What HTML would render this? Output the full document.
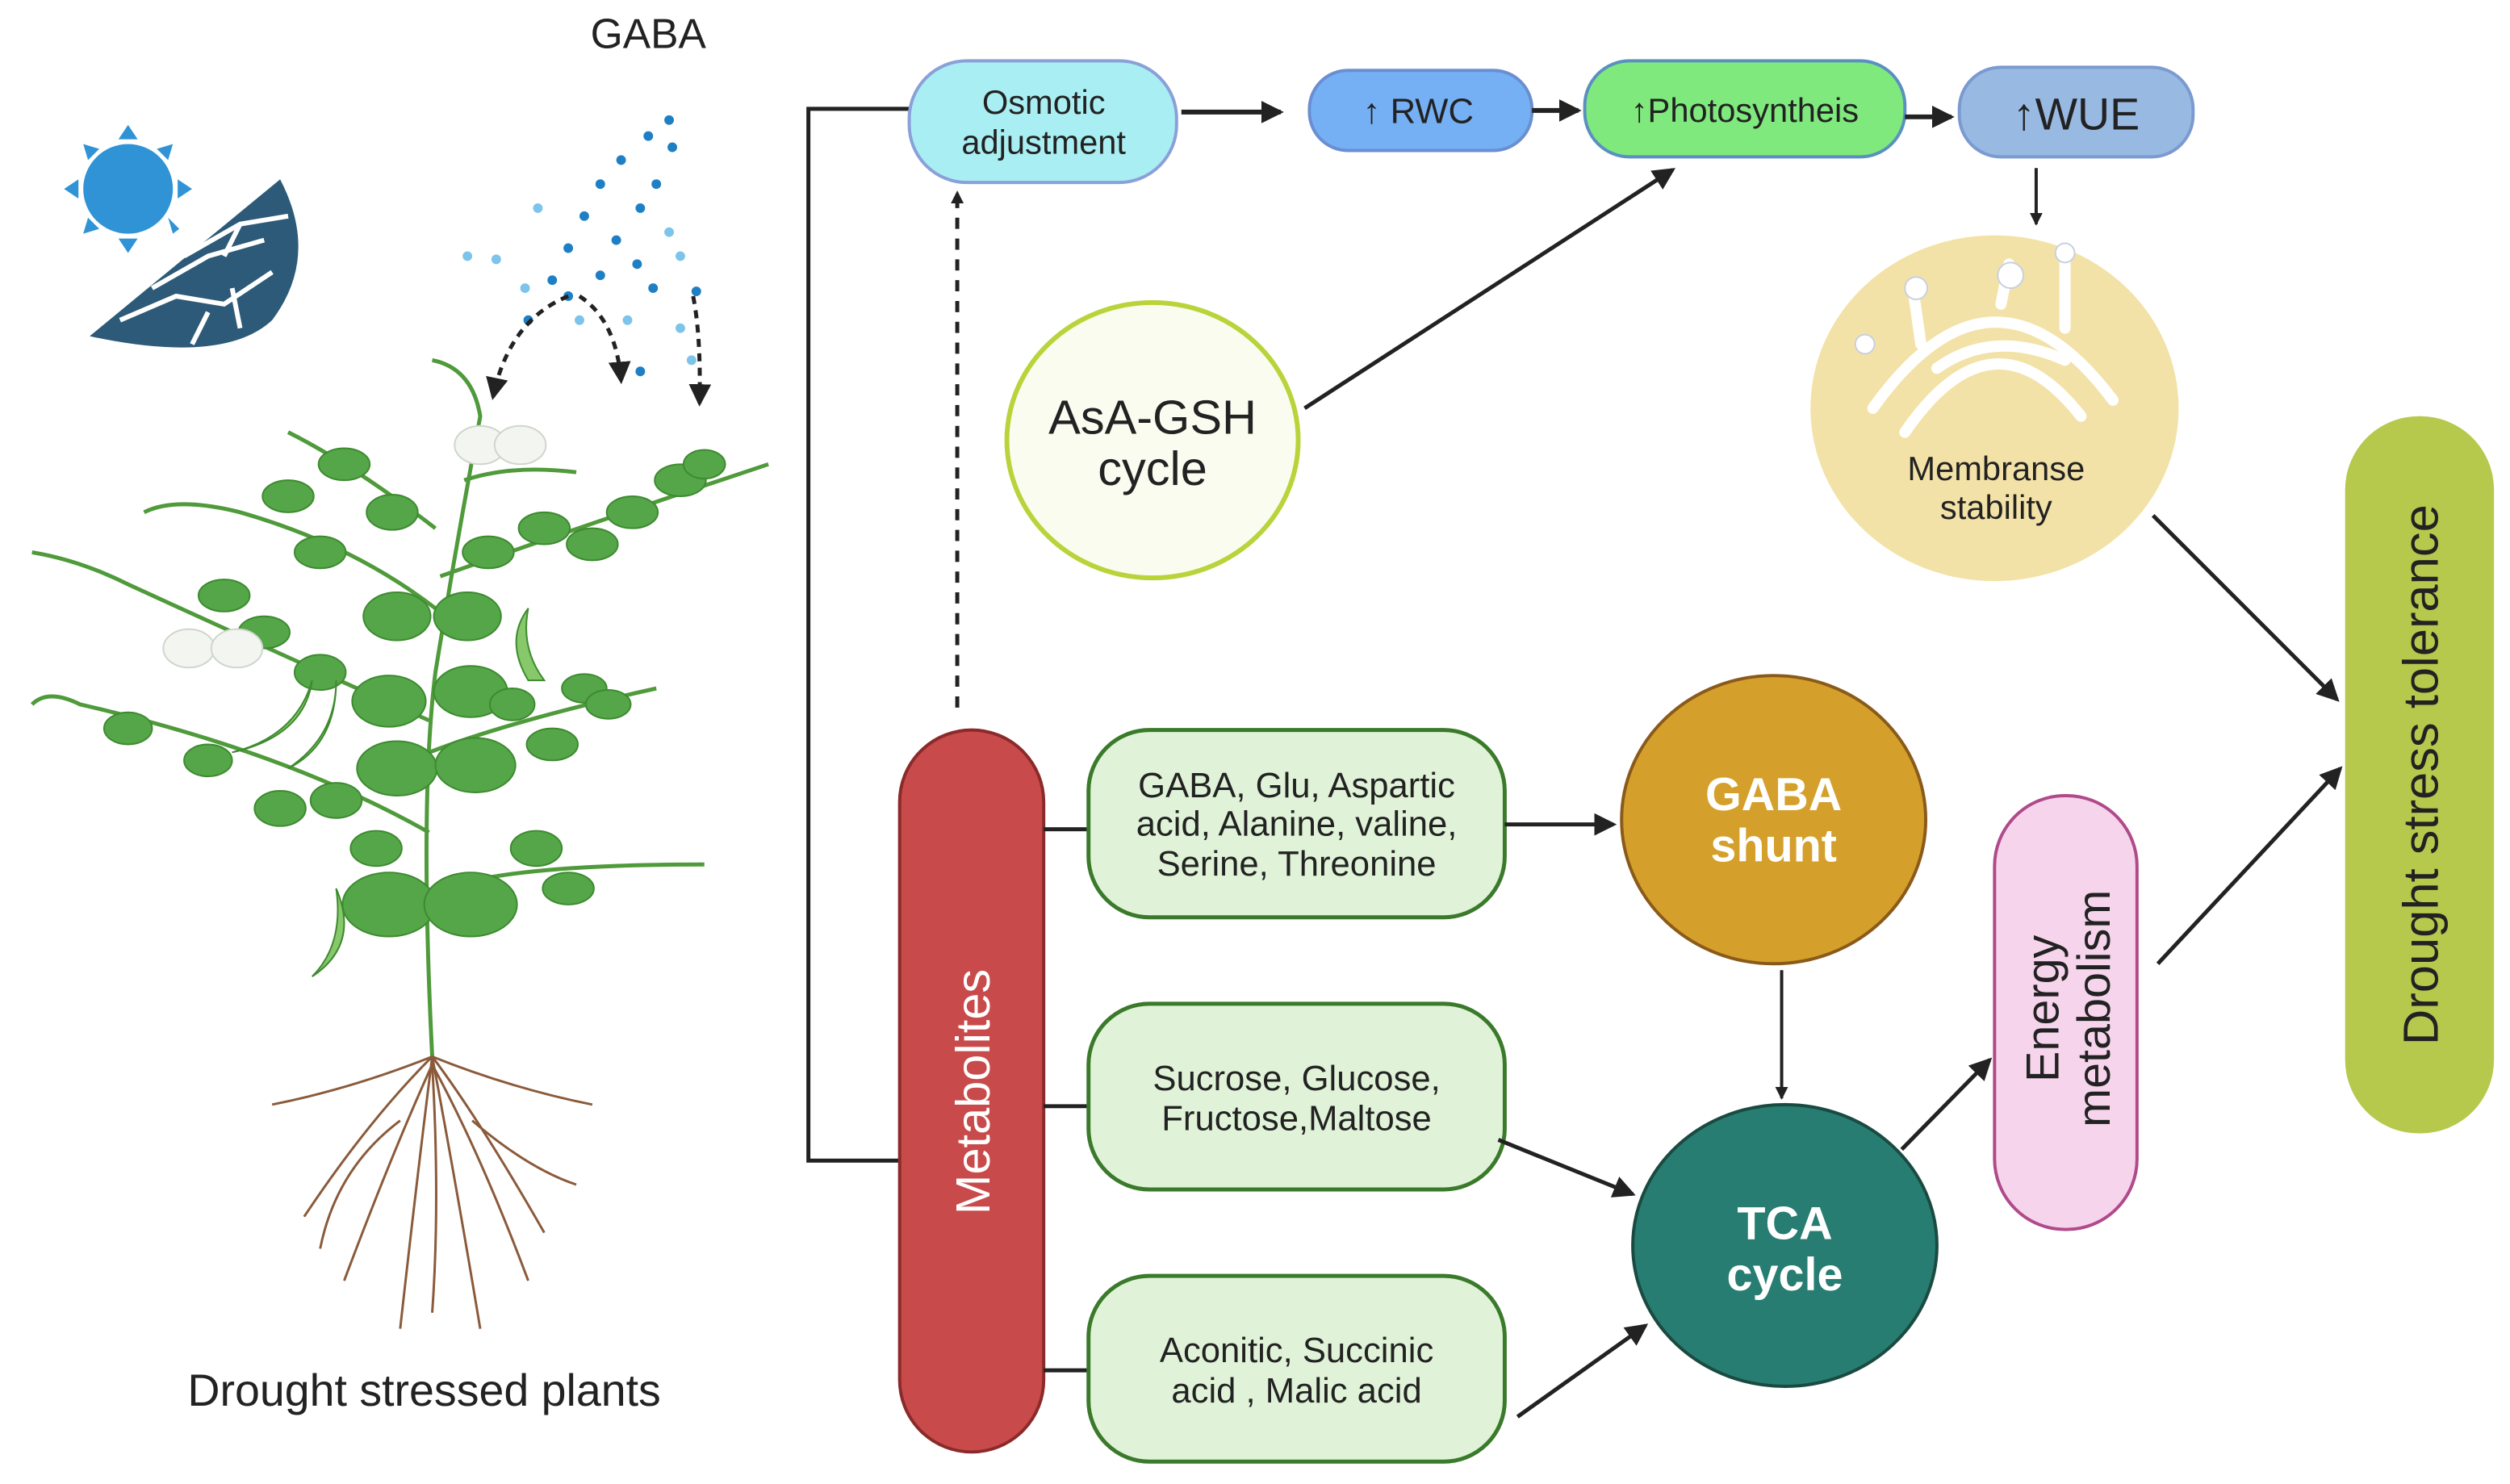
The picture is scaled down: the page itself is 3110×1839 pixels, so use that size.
<!DOCTYPE html>
<html><head><meta charset="utf-8"><style>
html,body{margin:0;padding:0;background:#fff;width:3110px;height:1839px;overflow:hidden}
svg{display:block}
text{font-family:"Liberation Sans",sans-serif}
</style></head><body>
<svg width="3110" height="1839" viewBox="0 0 1568 927" preserveAspectRatio="none" xmlns="http://www.w3.org/2000/svg">
<defs>
<marker id="a" markerWidth="8" markerHeight="8" refX="7" refY="4" orient="auto" markerUnits="userSpaceOnUse"><path d="M0,0 L8,4 L0,8 z" fill="#222"/></marker>
<marker id="b" markerWidth="14" markerHeight="14" refX="12" refY="7" orient="auto" markerUnits="userSpaceOnUse"><path d="M0,0 L14,7 L0,14 z" fill="#222"/></marker>
</defs>
<!-- Sun -->
<g fill="#2f93d6">
<circle cx="80" cy="118" r="28"/>
<path d="M80,78 l-6,9 h12z M80,158 l-6,-9 h12z M40,118 l9,-6 v12z M120,118 l-9,-6 v12z M52,90 l3,10 l7,-7z M108,90 l-3,10 l-7,-7z M52,146 l3,-10 l7,7z M108,146 l-3,-10 l7,7z"/>
</g>
<!-- cracked earth -->
<path d="M56,210 L175,112 Q200,160 170,200 Q140,228 56,210z" fill="#2c5a78"/>
<g stroke="#fff" stroke-width="3" fill="none">
<path d="M75,200 L110,185 L140,190 L170,170"/><path d="M95,180 L130,160 L165,150"/><path d="M115,160 L150,140 L180,135"/><path d="M120,215 L130,195"/><path d="M150,205 L145,180"/><path d="M140,160 L150,140"/>
</g>
<text x="405" y="30" font-size="26" text-anchor="middle" fill="#222">GABA</text>
<!-- dots -->
<g fill="#1e7fc4">
<circle cx="418" cy="75" r="3"/><circle cx="405" cy="85" r="3"/><circle cx="420" cy="92" r="3"/><circle cx="388" cy="100" r="3"/><circle cx="410" cy="115" r="3"/><circle cx="375" cy="115" r="3"/><circle cx="400" cy="130" r="3"/><circle cx="365" cy="135" r="3"/><circle cx="385" cy="150" r="3"/><circle cx="355" cy="155" r="3"/><circle cx="398" cy="165" r="3"/><circle cx="345" cy="175" r="3"/><circle cx="375" cy="172" r="3"/><circle cx="408" cy="180" r="3"/><circle cx="435" cy="182" r="3"/><circle cx="330" cy="200" r="3"/><circle cx="400" cy="232" r="3"/><circle cx="355" cy="185" r="3"/>
</g>
<g fill="#7cc4ea"><circle cx="292" cy="160" r="3"/><circle cx="310" cy="162" r="3"/><circle cx="336" cy="130" r="3"/><circle cx="328" cy="180" r="3"/><circle cx="418" cy="145" r="3"/><circle cx="425" cy="160" r="3"/><circle cx="362" cy="200" r="3"/><circle cx="392" cy="200" r="3"/><circle cx="425" cy="205" r="3"/><circle cx="432" cy="225" r="3"/></g>
<g stroke="#222" stroke-width="2.5" fill="none" stroke-dasharray="5,4">
<path d="M355,185 Q318,200 308,248" marker-end="url(#b)"/>
<path d="M362,185 Q385,200 388,238" marker-end="url(#b)"/>
<path d="M433,185 Q438,210 437,252" marker-end="url(#b)"/>
</g>
<!-- plant -->
<g stroke="#4f9a3a" stroke-width="2.5" fill="none">
<path d="M270,660 Q262,500 272,420 Q285,340 300,260 Q295,230 270,225"/>
<path d="M268,450 Q200,420 80,365 Q50,350 20,345"/>
<path d="M268,520 Q180,470 50,440 Q30,430 20,440"/>
<path d="M268,560 Q300,540 440,540"/>
<path d="M268,470 Q320,450 410,430"/>
<path d="M275,360 Q360,330 480,290"/>
<path d="M272,380 Q220,340 150,320 Q110,310 90,320"/>
<path d="M272,330 Q220,290 180,270"/>
<path d="M290,300 Q320,290 360,295"/>
</g>
<g fill="#55a648" stroke="#3d8a30" stroke-width="1">
<ellipse cx="248" cy="385" rx="21" ry="15"/><ellipse cx="292" cy="385" rx="21" ry="15"/>
<ellipse cx="243" cy="438" rx="23" ry="16"/><ellipse cx="294" cy="432" rx="23" ry="16"/>
<ellipse cx="248" cy="480" rx="25" ry="17"/><ellipse cx="297" cy="478" rx="25" ry="17"/>
<ellipse cx="243" cy="565" rx="29" ry="20"/><ellipse cx="294" cy="565" rx="29" ry="20"/>
<ellipse cx="180" cy="310" rx="16" ry="10"/><ellipse cx="215" cy="290" rx="16" ry="10"/><ellipse cx="245" cy="320" rx="16" ry="11"/><ellipse cx="200" cy="345" rx="16" ry="10"/>
<ellipse cx="140" cy="372" rx="16" ry="10"/><ellipse cx="165" cy="395" rx="16" ry="10"/><ellipse cx="200" cy="420" rx="16" ry="11"/>
<ellipse cx="80" cy="455" rx="15" ry="10"/><ellipse cx="130" cy="475" rx="15" ry="10"/><ellipse cx="175" cy="505" rx="16" ry="11"/><ellipse cx="210" cy="500" rx="16" ry="11"/><ellipse cx="235" cy="530" rx="16" ry="11"/>
<ellipse cx="305" cy="345" rx="16" ry="10"/><ellipse cx="340" cy="330" rx="16" ry="10"/><ellipse cx="370" cy="340" rx="16" ry="10"/><ellipse cx="395" cy="320" rx="16" ry="10"/><ellipse cx="425" cy="300" rx="16" ry="10"/><ellipse cx="440" cy="290" rx="13" ry="9"/>
<ellipse cx="320" cy="440" rx="14" ry="10"/><ellipse cx="345" cy="465" rx="16" ry="10"/><ellipse cx="365" cy="430" rx="14" ry="9"/><ellipse cx="380" cy="440" rx="14" ry="9"/>
<ellipse cx="335" cy="530" rx="16" ry="11"/><ellipse cx="355" cy="555" rx="16" ry="10"/>
</g>
<g fill="#86c86a" stroke="#3d8a30" stroke-width="1">
<path d="M145,470 Q185,460 195,425 Q190,460 145,470z"/><path d="M180,480 Q210,460 210,425 Q210,465 180,480z"/><path d="M195,610 Q215,590 210,555 Q225,590 195,610z"/><path d="M330,425 Q315,400 330,380 Q325,405 340,425z"/>
</g>
<g fill="#f2f5f0" stroke="#cfd6cc"><ellipse cx="300" cy="278" rx="16" ry="12"/><ellipse cx="325" cy="278" rx="16" ry="12"/><ellipse cx="118" cy="405" rx="16" ry="12"/><ellipse cx="148" cy="405" rx="16" ry="12"/></g>
<g stroke="#8a5a3a" stroke-width="1.5" fill="none">
<path d="M270,660 Q230,700 190,760"/><path d="M270,660 Q300,700 340,770"/><path d="M270,660 Q260,740 250,830"/><path d="M270,660 Q285,740 300,830"/><path d="M270,660 Q220,680 170,690"/><path d="M270,660 Q320,680 370,690"/><path d="M270,665 Q245,720 215,800"/><path d="M270,665 Q300,720 330,800"/><path d="M270,665 Q275,750 270,820"/><path d="M250,700 Q210,730 200,780"/><path d="M295,700 Q330,730 360,740"/>
</g>
<text x="265" y="878" font-size="28" text-anchor="middle" fill="#222">Drought stressed plants</text>

<!-- bracket -->
<path d="M568,68 H505 V725 H562" stroke="#222" stroke-width="2.5" fill="none"/>
<!-- top row -->
<rect x="568" y="38" width="167" height="76" rx="36" fill="#a9eef2" stroke="#8aa0d8" stroke-width="2"/>
<text x="652" y="71" font-size="21" text-anchor="middle" fill="#222">Osmotic</text>
<text x="652" y="96" font-size="21" text-anchor="middle" fill="#222">adjustment</text>
<line x1="738" y1="70" x2="800" y2="70" stroke="#222" stroke-width="3" marker-end="url(#b)"/>
<rect x="818" y="44" width="139" height="50" rx="24" fill="#75b0f4" stroke="#6a8fd0" stroke-width="2"/>
<text x="886" y="77" font-size="22" text-anchor="middle" fill="#222">↑ RWC</text>
<line x1="957" y1="69" x2="986" y2="69" stroke="#222" stroke-width="3" marker-end="url(#b)"/>
<rect x="990" y="38" width="200" height="60" rx="28" fill="#7fe97d" stroke="#5a90c0" stroke-width="2"/>
<text x="1090" y="76" font-size="21" text-anchor="middle" fill="#222">↑Photosyntheis</text>
<line x1="1190" y1="73" x2="1219" y2="73" stroke="#222" stroke-width="3" marker-end="url(#b)"/>
<rect x="1224" y="42" width="146" height="56" rx="26" fill="#98b9e2" stroke="#7a9ad0" stroke-width="2"/>
<text x="1297" y="81" font-size="28" text-anchor="middle" fill="#222">↑WUE</text>
<line x1="1272" y1="105" x2="1272" y2="140" stroke="#222" stroke-width="2" marker-end="url(#a)"/>
<!-- membrane -->
<ellipse cx="1246" cy="255" rx="115" ry="108" fill="#f3e2a7"/>
<g stroke="#fff" stroke-width="7" fill="none" stroke-linecap="round">
<path d="M1170,255 Q1245,150 1320,250"/><path d="M1190,270 Q1245,190 1300,260"/><path d="M1210,230 Q1245,205 1290,225"/><path d="M1200,215 L1195,180"/><path d="M1250,190 L1255,165"/><path d="M1290,205 L1290,160"/>
</g>
<g fill="#fff" stroke="#c8d0e0"><circle cx="1165" cy="215" r="6"/><circle cx="1197" cy="180" r="7"/><circle cx="1256" cy="172" r="8"/><circle cx="1290" cy="158" r="6"/></g>
<text x="1247" y="300" font-size="21" text-anchor="middle" fill="#222">Membranse</text>
<text x="1247" y="324" font-size="21" text-anchor="middle" fill="#222">stability</text>
<!-- AsA -->
<ellipse cx="720" cy="275" rx="91" ry="86" fill="#fafcf0" stroke="#b8d43a" stroke-width="3"/>
<text x="720" y="271" font-size="30" text-anchor="middle" fill="#222">AsA-GSH</text>
<text x="720" y="303" font-size="30" text-anchor="middle" fill="#222">cycle</text>
<line x1="815" y1="255" x2="1045" y2="106" stroke="#222" stroke-width="2.5" marker-end="url(#b)"/>
<line x1="598" y1="442" x2="598" y2="120" stroke="#222" stroke-width="2.5" stroke-dasharray="7,6" marker-end="url(#a)"/>
<!-- metabolites -->
<rect x="562" y="456" width="90" height="451" rx="45" fill="#c94a4a" stroke="#8b2a2a" stroke-width="2"/>
<text transform="translate(618,682) rotate(-90)" font-size="30" text-anchor="middle" fill="#fff">Metabolites</text>
<g stroke="#222" stroke-width="2.5"><line x1="652" y1="518" x2="680" y2="518"/><line x1="652" y1="691" x2="680" y2="691"/><line x1="652" y1="856" x2="680" y2="856"/></g>
<g fill="#e0f3d8" stroke="#3a7a2a" stroke-width="2.5">
<rect x="680" y="456" width="260" height="117" rx="38"/><rect x="680" y="627" width="260" height="116" rx="38"/><rect x="680" y="797" width="260" height="116" rx="38"/>
</g>
<g font-size="22" text-anchor="middle" fill="#222">
<text x="810" y="498">GABA, Glu, Aspartic</text><text x="810" y="522">acid, Alanine, valine,</text><text x="810" y="547">Serine, Threonine</text>
<text x="810" y="681">Sucrose, Glucose,</text><text x="810" y="706">Fructose,Maltose</text>
<text x="810" y="851">Aconitic, Succinic</text><text x="810" y="876">acid , Malic acid</text>
</g>
<line x1="940" y1="515" x2="1008" y2="515" stroke="#222" stroke-width="2.5" marker-end="url(#b)"/>
<ellipse cx="1108" cy="512" rx="95" ry="90" fill="#d4a02b" stroke="#8a5a1a" stroke-width="2"/>
<text x="1108" y="506" font-size="29" font-weight="bold" text-anchor="middle" fill="#fff">GABA</text>
<text x="1108" y="538" font-size="29" font-weight="bold" text-anchor="middle" fill="#fff">shunt</text>
<line x1="1113" y1="606" x2="1113" y2="686" stroke="#222" stroke-width="2" marker-end="url(#a)"/>
<ellipse cx="1115" cy="778" rx="95" ry="88" fill="#277d72" stroke="#1a4a40" stroke-width="2"/>
<text x="1115" y="774" font-size="29" font-weight="bold" text-anchor="middle" fill="#fff">TCA</text>
<text x="1115" y="806" font-size="29" font-weight="bold" text-anchor="middle" fill="#fff">cycle</text>
<line x1="936" y1="712" x2="1020" y2="746" stroke="#222" stroke-width="2.5" marker-end="url(#b)"/>
<line x1="948" y1="885" x2="1028" y2="828" stroke="#222" stroke-width="2.5" marker-end="url(#b)"/>
<line x1="1188" y1="718" x2="1243" y2="662" stroke="#222" stroke-width="2.5" marker-end="url(#b)"/>
<rect x="1246" y="497" width="89" height="271" rx="44" fill="#f6d4ec" stroke="#b04a8a" stroke-width="2"/>
<text transform="translate(1286,630) rotate(-90)" font-size="29" text-anchor="middle" fill="#222">Energy</text>
<text transform="translate(1318,630) rotate(-90)" font-size="29" text-anchor="middle" fill="#222">metabolism</text>
<line x1="1348" y1="602" x2="1462" y2="480" stroke="#222" stroke-width="2.5" marker-end="url(#b)"/>
<line x1="1345" y1="322" x2="1460" y2="437" stroke="#222" stroke-width="2.5" marker-end="url(#b)"/>
<rect x="1465" y="260" width="93" height="448" rx="46" fill="#b6c94c"/>
<text transform="translate(1523,484) rotate(-90)" font-size="31" text-anchor="middle" fill="#222">Drought stress tolerance</text>
</svg>
</body></html>
